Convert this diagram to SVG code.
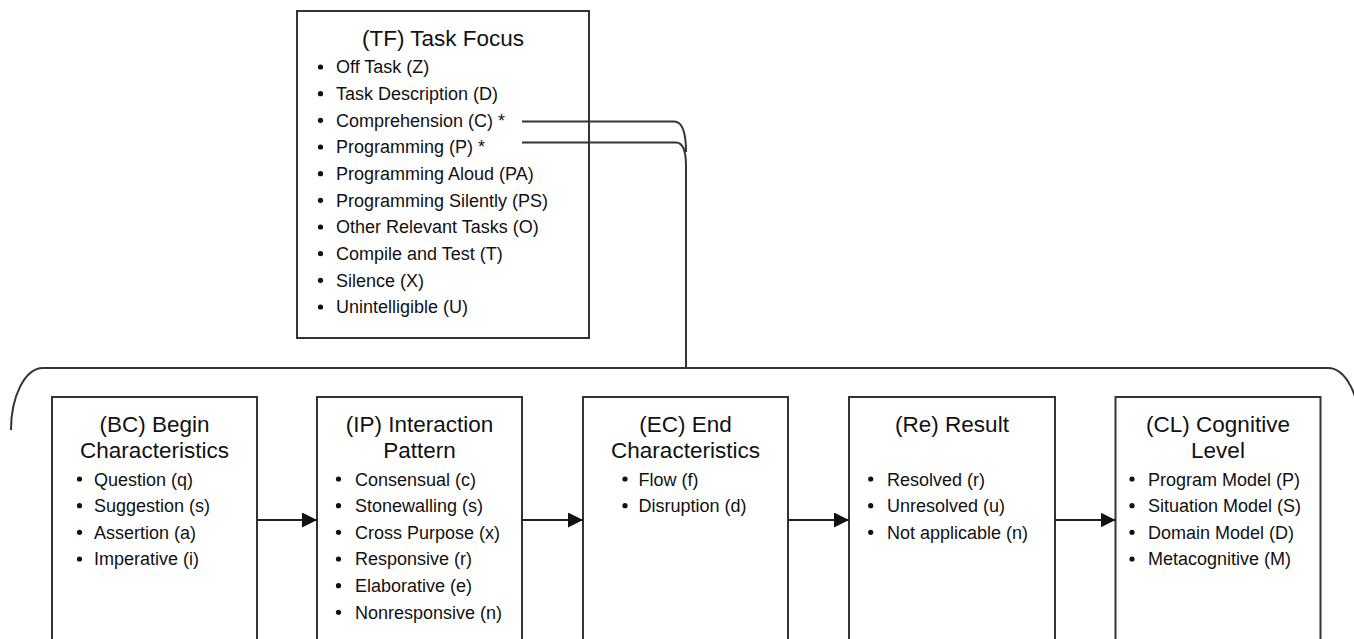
<svg xmlns="http://www.w3.org/2000/svg" width="1354" height="639" viewBox="0 0 1354 639">
  <defs>
    <style>
      .box { fill: #ffffff; stroke: #333333; stroke-width: 2; }
      .title { font-family: "Liberation Sans", Arial, sans-serif; font-size: 22.5px; fill: #111111; text-anchor: middle; }
      .item { font-family: "Liberation Sans", Arial, sans-serif; font-size: 18px; fill: #111111; }
      .dot { fill: #111111; }
      .wire { fill: none; stroke: #333333; stroke-width: 2; }
      .flow { fill: none; stroke: #222222; stroke-width: 2.2; marker-end: url(#head); }
    </style>
    <marker id="head" viewBox="0 0 15 15" refX="15" refY="7.5" markerWidth="15" markerHeight="15" markerUnits="userSpaceOnUse" orient="auto">
      <path d="M0,0 L15,7.5 L0,15 Z" fill="#111111"/>
    </marker>
  </defs>

  <rect width="1354" height="639" fill="#ffffff"/>

  <!-- task focus -->
  <g id="node-tf">
    <rect class="box" x="297" y="11" width="292" height="327"/>
    <text class="title" x="443" y="46">(TF) Task Focus</text>
    <g class="dot">
      <circle cx="320.5" cy="67" r="2.6"/>
      <circle cx="320.5" cy="93.7" r="2.6"/>
      <circle cx="320.5" cy="120.3" r="2.6"/>
      <circle cx="320.5" cy="147" r="2.6"/>
      <circle cx="320.5" cy="173.7" r="2.6"/>
      <circle cx="320.5" cy="200.3" r="2.6"/>
      <circle cx="320.5" cy="227" r="2.6"/>
      <circle cx="320.5" cy="253.7" r="2.6"/>
      <circle cx="320.5" cy="280.3" r="2.6"/>
      <circle cx="320.5" cy="307" r="2.6"/>
    </g>
    <text class="item" x="336" y="73.3">Off Task (Z)</text>
    <text class="item" x="336" y="100">Task Description (D)</text>
    <text class="item" x="336" y="126.7">Comprehension (C) *</text>
    <text class="item" x="336" y="153.3">Programming (P) *</text>
    <text class="item" x="336" y="180">Programming Aloud (PA)</text>
    <text class="item" x="336" y="206.7">Programming Silently (PS)</text>
    <text class="item" x="336" y="233.3">Other Relevant Tasks (O)</text>
    <text class="item" x="336" y="260">Compile and Test (T)</text>
    <text class="item" x="336" y="286.7">Silence (X)</text>
    <text class="item" x="336" y="313.3">Unintelligible (U)</text>
  </g>

  <!-- begin characteristics -->
  <g id="node-bc">
    <rect class="box" x="52" y="397" width="205" height="260"/>
    <text class="title" x="154.5" y="431.7">(BC) Begin</text>
    <text class="title" x="154.5" y="457.5">Characteristics</text>
    <g class="dot">
      <circle cx="79.5" cy="479" r="2.6"/>
      <circle cx="79.5" cy="505.7" r="2.6"/>
      <circle cx="79.5" cy="532.3" r="2.6"/>
      <circle cx="79.5" cy="559" r="2.6"/>
    </g>
    <text class="item" x="94" y="485.5">Question (q)</text>
    <text class="item" x="94" y="512">Suggestion (s)</text>
    <text class="item" x="94" y="538.7">Assertion (a)</text>
    <text class="item" x="94" y="565.3">Imperative (i)</text>
  </g>

  <!-- interaction pattern -->
  <g id="node-ip">
    <rect class="box" x="317" y="397" width="205" height="260"/>
    <text class="title" x="419.5" y="431.7">(IP) Interaction</text>
    <text class="title" x="419.5" y="457.5">Pattern</text>
    <g class="dot">
      <circle cx="338.5" cy="479" r="2.6"/>
      <circle cx="338.5" cy="505.7" r="2.6"/>
      <circle cx="338.5" cy="532.3" r="2.6"/>
      <circle cx="338.5" cy="559" r="2.6"/>
      <circle cx="338.5" cy="585.7" r="2.6"/>
      <circle cx="338.5" cy="612.3" r="2.6"/>
    </g>
    <text class="item" x="355" y="485.5">Consensual (c)</text>
    <text class="item" x="355" y="512">Stonewalling (s)</text>
    <text class="item" x="355" y="538.7">Cross Purpose (x)</text>
    <text class="item" x="355" y="565.3">Responsive (r)</text>
    <text class="item" x="355" y="592">Elaborative (e)</text>
    <text class="item" x="355" y="618.7">Nonresponsive (n)</text>
  </g>

  <!-- end characteristics -->
  <g id="node-ec">
    <rect class="box" x="583" y="397" width="205" height="260"/>
    <text class="title" x="685.5" y="431.7">(EC) End</text>
    <text class="title" x="685.5" y="457.5">Characteristics</text>
    <g class="dot">
      <circle cx="625" cy="479" r="2.6"/>
      <circle cx="625" cy="505.7" r="2.6"/>
    </g>
    <text class="item" x="638.5" y="485.5">Flow (f)</text>
    <text class="item" x="638.5" y="512">Disruption (d)</text>
  </g>

  <!-- result -->
  <g id="node-re">
    <rect class="box" x="849" y="397" width="206" height="260"/>
    <text class="title" x="952" y="431.7">(Re) Result</text>
    <g class="dot">
      <circle cx="870.7" cy="479" r="2.6"/>
      <circle cx="870.7" cy="505.7" r="2.6"/>
      <circle cx="870.7" cy="532.3" r="2.6"/>
    </g>
    <text class="item" x="887" y="485.5">Resolved (r)</text>
    <text class="item" x="887" y="512">Unresolved (u)</text>
    <text class="item" x="887" y="538.7">Not applicable (n)</text>
  </g>

  <!-- cognitive level -->
  <g id="node-cl">
    <rect class="box" x="1115.5" y="397" width="205" height="260"/>
    <text class="title" x="1218" y="431.7">(CL) Cognitive</text>
    <text class="title" x="1218" y="457.5">Level</text>
    <g class="dot">
      <circle cx="1132" cy="479" r="2.6"/>
      <circle cx="1132" cy="505.7" r="2.6"/>
      <circle cx="1132" cy="532.3" r="2.6"/>
      <circle cx="1132" cy="559" r="2.6"/>
    </g>
    <text class="item" x="1148" y="485.5">Program Model (P)</text>
    <text class="item" x="1148" y="512">Situation Model (S)</text>
    <text class="item" x="1148" y="538.7">Domain Model (D)</text>
    <text class="item" x="1148" y="565.3">Metacognitive (M)</text>
  </g>

  <!-- connectors, drawn last so the two task lines cross the box border -->
  <g id="connectors">
    <path class="wire" d="M522 121.5 L674 121.5 Q686 121.5 686 152"/>
    <path class="wire" d="M522 142.5 L676 142.5 Q686 142.5 686 166 L686 368"/>
    <path class="wire" d="M11 430 A32 62 0 0 1 43 368 L1328 368 A32 62 0 0 1 1360 430"/>
    <line class="flow" x1="257" y1="520" x2="317" y2="520"/>
    <line class="flow" x1="522" y1="520" x2="583" y2="520"/>
    <line class="flow" x1="788" y1="520" x2="849" y2="520"/>
    <line class="flow" x1="1055" y1="520" x2="1115.5" y2="520"/>
  </g>
</svg>
